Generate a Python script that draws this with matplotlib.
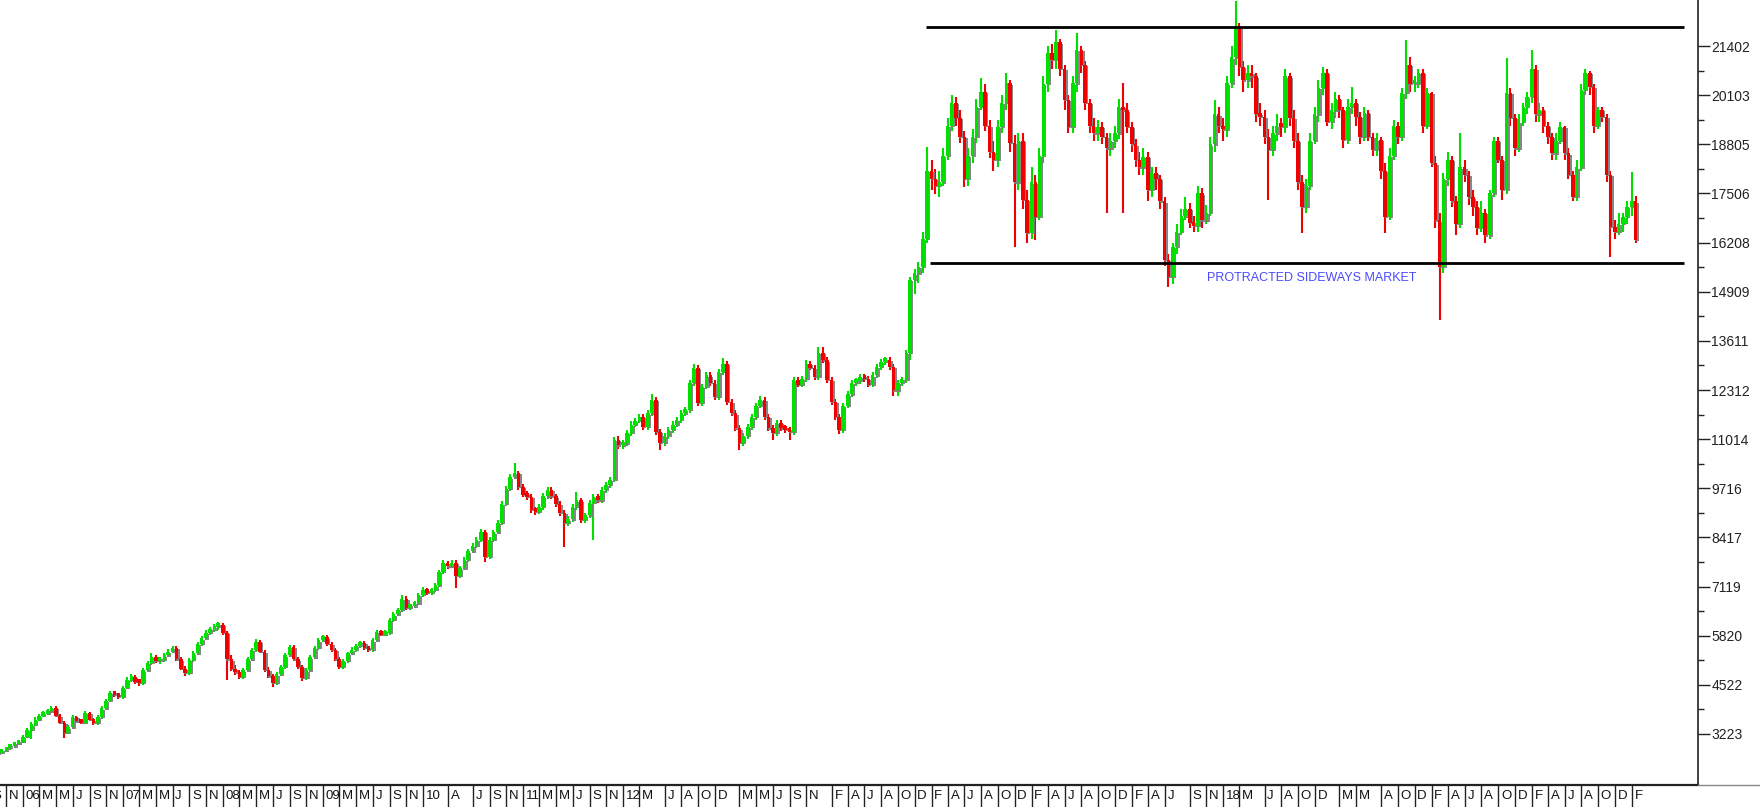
import numpy as np
import pandas as pd
import matplotlib
matplotlib.use("Agg")
import matplotlib.pyplot as plt
import matplotlib.dates as mdates
from matplotlib import patheffects as pe
from matplotlib.lines import Line2D

plt.rcParams['font.family'] = ['Liberation Sans', 'DejaVu Sans']

# semi-monthly candles (1st and 15th), Oct 2005 .. Feb 2022; open = previous close
first_open = 2700
close = [
    2720, 2780, 2850, 2900, 2960, 3010,  # 2005
    3150, 3330, 3480, 3600, 3700, 3760, 3820, 3910, 3700, 3520, 3250, 3400, 3670, 3560, 3520, 3775, 3600, 3510, 3670, 3900, 4100, 4305, 4250, 4200,  # 2006
    4450, 4650, 4730, 4600, 4570, 4900, 5100, 5260, 5150, 5180, 5300, 5400, 5495, 5200, 4950, 4835, 5180, 5350, 5600, 5750, 5900, 5970, 6050, 6100,  # 2007
    5890, 5200, 4950, 4850, 4730, 4900, 5200, 5440, 5650, 5400, 4915, 4750, 4570, 4800, 4990, 5300, 5520, 5200, 4990, 4700, 4900, 5250, 5500, 5700,  # 2008
    5780, 5600, 5440, 5200, 4990, 5150, 5350, 5450, 5550, 5625, 5500, 5440, 5700, 5920, 5850, 5900, 6235, 6380, 6500, 6800, 6550, 6600, 6680, 6900,  # 2009
    7025, 6950, 7025, 7150, 7500, 7740, 7650, 7750, 7400, 7600, 7820, 8050, 8200, 8350, 8560, 7900, 8350, 8550, 8800, 9300, 9700, 10000, 10120, 9750,  # 2010
    9550, 9485, 9150, 9100, 9220, 9500, 9670, 9500, 9300, 9060, 8800, 8900, 9220, 9400, 8880, 9000, 9325, 9485, 9400, 9670, 9800, 9940, 11000, 10850,  # 2011
    10900, 11175, 11400, 11500, 11600, 11335, 11700, 12050, 11200, 10910, 11100, 11255, 11400, 11520, 11700, 11785, 12500, 12900, 11970, 12400, 12700, 12500, 12125, 12800,  # 2012
    13000, 12000, 11700, 11300, 10910, 11100, 11335, 11600, 11900, 12050, 11600, 11300, 11175, 11440, 11300, 11255, 11200, 12580, 12450, 12600, 13000, 12900, 12655, 13300,  # 2013
    13100, 12580, 12000, 11600, 11255, 11900, 12200, 12500, 12550, 12655, 12600, 12450, 12700, 12920, 13050, 13105, 12920, 12300, 12500, 12580, 13290, 15220, 15400, 15560,  # 2014
    16300, 18100, 17900, 17700, 17800, 18500, 19300, 19900, 19500, 19000, 17900, 18500, 19000, 19790, 20200, 19300, 18600, 18390, 19260, 19900, 20420, 18840, 17800, 18900,  # 2015
    17330, 16460, 17800, 16885, 18500, 20400, 21215, 21030, 21500, 20800, 19975, 19260, 20420, 21300, 20900, 19900, 19300, 19100, 19260, 19000, 18700, 18900, 19100, 19800,  # 2016
    19700, 19260, 18800, 18390, 18200, 18470, 17600, 18050, 17900, 17300, 15750, 15300, 16090, 16500, 16900, 17100, 16725, 16650, 17510, 16800, 17000, 18800, 19600, 19300,  # 2017
    19200, 20420, 21100, 21900, 20850, 20500, 20700, 20600, 19600, 19525, 19000, 18655, 19100, 19300, 19260, 20600, 19500, 18900, 17800, 17150, 17700, 18900, 19600, 20300,  # 2018
    20700, 19400, 19700, 20000, 19710, 18920, 19800, 19900, 19525, 19000, 19630, 19000, 18655, 18920, 18100, 16885, 18500, 19300, 19000, 20160, 20900, 20400, 20400, 20690,  # 2019
    19300, 20160, 18300, 16800, 15560, 17900, 18390, 17300, 16700, 18200, 18000, 17400, 17150, 16600, 17000, 16400, 17510, 18900, 18400, 17600, 20160, 19500, 18700, 19400,  # 2020
    19800, 20055, 20800, 19600, 19710, 19300, 19000, 18570, 18900, 19260, 18570, 18000, 17410, 18200, 20240, 20690, 20320, 19300, 19710, 19525, 18000, 16620, 16500, 16700,  # 2021
    16885, 17150, 17300, 16275,  # 2022
]
high = [
    2760, 2820, 2880, 2940, 3000, 3070,
    3200, 3380, 3530, 3660, 3760, 3820, 3880, 3960, 3950, 3760, 3560, 3450, 3720, 3700, 3600, 3820, 3800, 3640, 3720, 3950, 4150, 4360, 4350, 4300,
    4500, 4720, 4800, 4780, 4660, 4960, 5160, 5350, 5320, 5250, 5360, 5460, 5560, 5540, 5250, 5010, 5240, 5420, 5660, 5820, 5960, 6050, 6120, 6180,
    6150, 5950, 5300, 5050, 4920, 4960, 5260, 5500, 5720, 5700, 5450, 4990, 4810, 4850, 5050, 5360, 5580, 5570, 5260, 5050, 4960, 5300, 5560, 5760,
    5840, 5840, 5660, 5500, 5260, 5210, 5400, 5510, 5610, 5690, 5680, 5560, 5760, 5980, 5980, 5960, 6290, 6440, 6560, 6900, 6860, 6660, 6740, 6960,
    7100, 7090, 7090, 7210, 7560, 7810, 7800, 7820, 7810, 7660, 7890, 8120, 8270, 8420, 8640, 8620, 8420, 8620, 8870, 9380, 9780, 10080, 10380, 10180,
    9820, 9640, 9560, 9230, 9300, 9580, 9750, 9740, 9570, 9370, 9130, 8980, 9290, 9620, 9460, 9070, 9400, 9560, 9560, 9740, 9880, 10020, 11080, 11100,
    11000, 11260, 11480, 11580, 11690, 11680, 11780, 12200, 12130, 11280, 11180, 11330, 11480, 11600, 11780, 11860, 12580, 12990, 12980, 12480, 12780, 12780, 12580, 12880,
    13150, 13080, 12080, 11780, 11380, 11180, 11420, 11680, 11980, 12150, 12130, 11680, 11380, 11520, 11520, 11380, 11330, 12660, 12660, 12680, 13100, 13080, 12980, 13450,
    13450, 13180, 12660, 12080, 11680, 11980, 12280, 12580, 12640, 12740, 12730, 12680, 12780, 13000, 13130, 13190, 13180, 13000, 12580, 12660, 13380, 15300, 15500, 15700,
    16500, 18730, 18400, 18150, 18100, 18700, 19500, 20100, 20050, 19700, 19150, 18700, 19200, 20000, 20560, 20400, 19450, 18900, 19450, 20100, 20690, 20500, 19050, 19100,
    19100, 17600, 18200, 18000, 18700, 20600, 21400, 21450, 21825, 21600, 20900, 20100, 20600, 21745, 21400, 21000, 20000, 19500, 19450, 19400, 19100, 19100, 19300, 20000,
    20420, 19900, 19400, 18950, 18600, 18700, 18600, 18200, 18200, 18000, 17400, 15900, 16200, 16700, 17100, 17400, 17250, 16900, 17700, 17650, 17200, 19000, 19975, 19800,
    19500, 20600, 21400, 22600, 22000, 21000, 20900, 20900, 20700, 19900, 19700, 19200, 19300, 19600, 19500, 20800, 20690, 19700, 19100, 18000, 17900, 19100, 19800, 20500,
    20850, 20800, 19900, 20200, 20100, 19800, 20000, 20320, 20000, 19650, 19800, 19700, 19100, 19100, 19000, 18300, 18700, 19450, 19400, 20300, 21560, 21100, 20600, 20800,
    20800, 20300, 20200, 18500, 17000, 18050, 18600, 18500, 17450, 19100, 18400, 18100, 17600, 17300, 17300, 17100, 17600, 19000, 19000, 18500, 21085, 20300, 19600, 19600,
    19900, 20200, 21295, 20900, 19900, 19800, 19400, 19100, 19100, 19400, 19300, 18700, 18100, 18400, 20400, 20800, 20750, 20400, 19800, 19800, 19600, 18100, 16800, 17000,
    17000, 17300, 18070, 17450,
]
low = [
    2660, 2690, 2740, 2800, 2860, 2920,
    2980, 3110, 3080, 3440, 3560, 3660, 3720, 3780, 3660, 3480, 3120, 3220, 3360, 3520, 3480, 3490, 3560, 3470, 3470, 3630, 3860, 4060, 4200, 4150,
    4150, 4400, 4600, 4550, 4500, 4520, 4850, 5050, 5100, 5080, 5130, 5250, 5350, 5150, 4900, 4760, 4790, 5130, 5300, 5550, 5700, 5850, 5920, 5980,
    5840, 4650, 4880, 4780, 4680, 4680, 4850, 5150, 5390, 5350, 4860, 4700, 4460, 4520, 4750, 4940, 5250, 5150, 4940, 4620, 4650, 4850, 5200, 5450,
    5650, 5540, 5380, 5150, 4940, 4940, 5100, 5300, 5400, 5500, 5450, 5390, 5390, 5650, 5800, 5800, 5850, 6180, 6330, 6450, 6500, 6500, 6550, 6630,
    6850, 6890, 6890, 6970, 7100, 7450, 7590, 7600, 7080, 7350, 7550, 7770, 8000, 8150, 8300, 7770, 7850, 8300, 8500, 8750, 9250, 9650, 9950, 9680,
    9480, 9410, 9070, 9020, 9030, 9150, 9430, 9430, 9230, 8990, 8160, 8730, 8830, 9150, 8810, 8800, 8930, 8350, 9330, 9330, 9600, 9730, 9870, 10750,
    10760, 10830, 11100, 11330, 11430, 11260, 11260, 11630, 11120, 10730, 10840, 11030, 11180, 11330, 11450, 11630, 11710, 12430, 11890, 11890, 12330, 12430, 12050, 12050,
    12720, 11920, 11620, 11220, 10730, 10830, 11020, 11260, 11520, 11830, 11520, 11220, 11000, 11100, 11220, 11180, 11000, 11130, 12380, 12380, 12530, 12830, 12580, 12580,
    13020, 12500, 11920, 11520, 11150, 11180, 11830, 12130, 12430, 12480, 12520, 12380, 12380, 12630, 12850, 12980, 12850, 12150, 12150, 12430, 12500, 13100, 14850, 15150,
    15400, 16200, 17600, 17500, 17400, 17700, 18400, 19150, 19300, 18850, 17680, 17700, 18300, 18850, 19700, 19150, 18450, 18100, 18200, 19100, 19700, 18600, 16090, 17600,
    17100, 16200, 16300, 16275, 16800, 18300, 20200, 20800, 20800, 20600, 19700, 19100, 19100, 20200, 20700, 19700, 19100, 18900, 18900, 18800, 16990, 18500, 18700, 18950,
    17000, 19100, 18600, 18200, 18000, 18000, 17300, 17400, 17600, 17100, 15600, 15040, 15100, 15900, 16400, 16800, 16600, 16500, 16500, 16600, 16700, 16900, 18600, 19100,
    18900, 19000, 20300, 20900, 20600, 20200, 20300, 20300, 19400, 19300, 18800, 17330, 18500, 18900, 19000, 19100, 19300, 18700, 17600, 16460, 17000, 17600, 18800, 19400,
    20100, 19300, 19200, 19500, 19500, 18700, 18800, 19600, 19300, 18800, 18900, 18900, 18500, 18500, 17900, 16460, 16800, 18400, 18800, 18900, 20000, 20200, 20200, 20300,
    19100, 19200, 18200, 16600, 14160, 15400, 17700, 17150, 16400, 16600, 17800, 17200, 16900, 16400, 16500, 16190, 16300, 17400, 18300, 17330, 17500, 19300, 18500, 18600,
    19300, 19600, 19900, 19400, 19400, 19100, 18800, 18400, 18400, 18800, 18400, 17900, 17300, 17300, 18100, 20100, 20100, 19100, 19200, 19400, 17800, 15830, 16300, 16400,
    16500, 16700, 16900, 16200,
]

y_ticks = [3223, 4522, 5820, 7119, 8417, 9716, 11014, 12312, 13611, 14909, 16208, 17506, 18805, 20103, 21402]

# month markers along the bottom (first day of month, label)
month_marks = [
    ('2005-09', 'S'), ('2005-11', 'N'),
    ('2006-01', '06'), ('2006-03', 'M'), ('2006-05', 'M'), ('2006-07', 'J'), ('2006-09', 'S'), ('2006-11', 'N'),
    ('2007-01', '07'), ('2007-03', 'M'), ('2007-05', 'M'), ('2007-07', 'J'), ('2007-09', 'S'), ('2007-11', 'N'),
    ('2008-01', '08'), ('2008-03', 'M'), ('2008-05', 'M'), ('2008-07', 'J'), ('2008-09', 'S'), ('2008-11', 'N'),
    ('2009-01', '09'), ('2009-03', 'M'), ('2009-05', 'M'), ('2009-07', 'J'), ('2009-09', 'S'), ('2009-11', 'N'),
    ('2010-01', '10'), ('2010-04', 'A'), ('2010-07', 'J'), ('2010-09', 'S'), ('2010-11', 'N'),
    ('2011-01', '11'), ('2011-03', 'M'), ('2011-05', 'M'), ('2011-07', 'J'), ('2011-09', 'S'), ('2011-11', 'N'),
    ('2012-01', '12'), ('2012-03', 'M'), ('2012-06', 'J'), ('2012-08', 'A'), ('2012-10', 'O'), ('2012-12', 'D'),
    ('2013-03', 'M'), ('2013-05', 'M'), ('2013-07', 'J'), ('2013-09', 'S'), ('2013-11', 'N'),
    ('2014-02', 'F'), ('2014-04', 'A'), ('2014-06', 'J'), ('2014-08', 'A'), ('2014-10', 'O'), ('2014-12', 'D'),
    ('2015-02', 'F'), ('2015-04', 'A'), ('2015-06', 'J'), ('2015-08', 'A'), ('2015-10', 'O'), ('2015-12', 'D'),
    ('2016-02', 'F'), ('2016-04', 'A'), ('2016-06', 'J'), ('2016-08', 'A'), ('2016-10', 'O'), ('2016-12', 'D'),
    ('2017-02', 'F'), ('2017-04', 'A'), ('2017-06', 'J'), ('2017-09', 'S'), ('2017-11', 'N'),
    ('2018-01', '18'), ('2018-03', 'M'), ('2018-06', 'J'), ('2018-08', 'A'), ('2018-10', 'O'), ('2018-12', 'D'),
    ('2019-03', 'M'), ('2019-05', 'M'), ('2019-08', 'A'), ('2019-10', 'O'), ('2019-12', 'D'),
    ('2020-02', 'F'), ('2020-04', 'A'), ('2020-06', 'J'), ('2020-08', 'A'), ('2020-10', 'O'), ('2020-12', 'D'),
    ('2021-02', 'F'), ('2021-04', 'A'), ('2021-06', 'J'), ('2021-08', 'A'), ('2021-10', 'O'), ('2021-12', 'D'),
    ('2022-02', 'F'),
]

# channel lines and note
resistance = 21896
support = 15655
channel_start = ('2015-01-12', '2015-01-28')
channel_end = '2022-08-10'
note = 'PROTRACTED SIDEWAYS MARKET'

GREEN = '#00e000'
RED = '#f00000'

close = np.array(close, dtype=float)
high = np.array(high, dtype=float)
low = np.array(low, dtype=float)
opens = np.r_[first_open, close[:-1]]
dates = pd.date_range('2005-10-01', periods=len(close), freq='SMS')
x = mdates.date2num(dates)

fig = plt.figure(figsize=(17.6, 8.07), dpi=100)
ax = fig.add_axes([0, 22 / 807, 1698 / 1760, 785 / 807])

up = close >= opens
cols = np.where(up, GREEN, RED)
body_lo = np.minimum(opens, close)
body_h = np.maximum(np.abs(close - opens), 100)

ax.vlines(x, low, high, colors=cols, linewidth=1.5, zorder=2)
bars = ax.bar(x, body_h, bottom=body_lo, width=13, color=cols, linewidth=0, zorder=3)
for p in bars:
    p.set_path_effects([pe.SimplePatchShadow(offset=(1.0, -1.0), shadow_rgbFace='#7a7a7a', alpha=0.9), pe.Normal()])

# channel
ax.hlines(resistance, mdates.datestr2num(channel_start[0]), mdates.datestr2num(channel_end),
          color='black', linewidth=2.0, zorder=4)
ax.hlines(support, mdates.datestr2num(channel_start[1]), mdates.datestr2num(channel_end),
          color='black', linewidth=2.0, zorder=4)
ax.text(mdates.datestr2num('2018-11-20'), 15270, note, color='#4a4aff', fontsize=9,
        ha='center', va='center', zorder=5)

ax.set_xlim(mdates.datestr2num('2005-10-09'), mdates.datestr2num('2022-10-01'))
ax.set_ylim(1874, 22618)

# axes frame
for s in ['top', 'left']:
    ax.spines[s].set_visible(False)
ax.spines['right'].set_linewidth(1.2)
ax.spines['right'].set_color('#222222')
ax.spines['bottom'].set_linewidth(1.6)
ax.spines['bottom'].set_color('#222222')

ax.yaxis.tick_right()
ax.set_yticks(y_ticks)
ax.set_yticklabels([str(v) for v in y_ticks])
ax.set_yticks([(a + b) / 2 for a, b in zip(y_ticks[:-1], y_ticks[1:])], minor=True)
ax.tick_params(axis='y', which='major', length=8.5, width=1, pad=1, labelsize=10,
               colors='#222222', direction='out')
ax.tick_params(axis='y', which='minor', length=4.3, width=1, colors='#222222', direction='out')
ax.set_xticks([])

# bottom month row
tr = ax.get_xaxis_transform()
row = -22 / 785
for m, lab in month_marks:
    d = mdates.datestr2num(m + '-01')
    ax.plot([d, d], [0, row], transform=tr, color='#222222', linewidth=1, clip_on=False)
    ax.annotate(lab, (d, row / 2), xycoords=tr, xytext=(2, 0), textcoords='offset points',
                fontsize=9.5, ha='left', va='center', color='#111111', annotation_clip=False)

fig.add_artist(Line2D([1698 / 1760, 1], [22 / 807, 22 / 807], color='#888888', linewidth=1))

fig.savefig('out.png', dpi=100)
